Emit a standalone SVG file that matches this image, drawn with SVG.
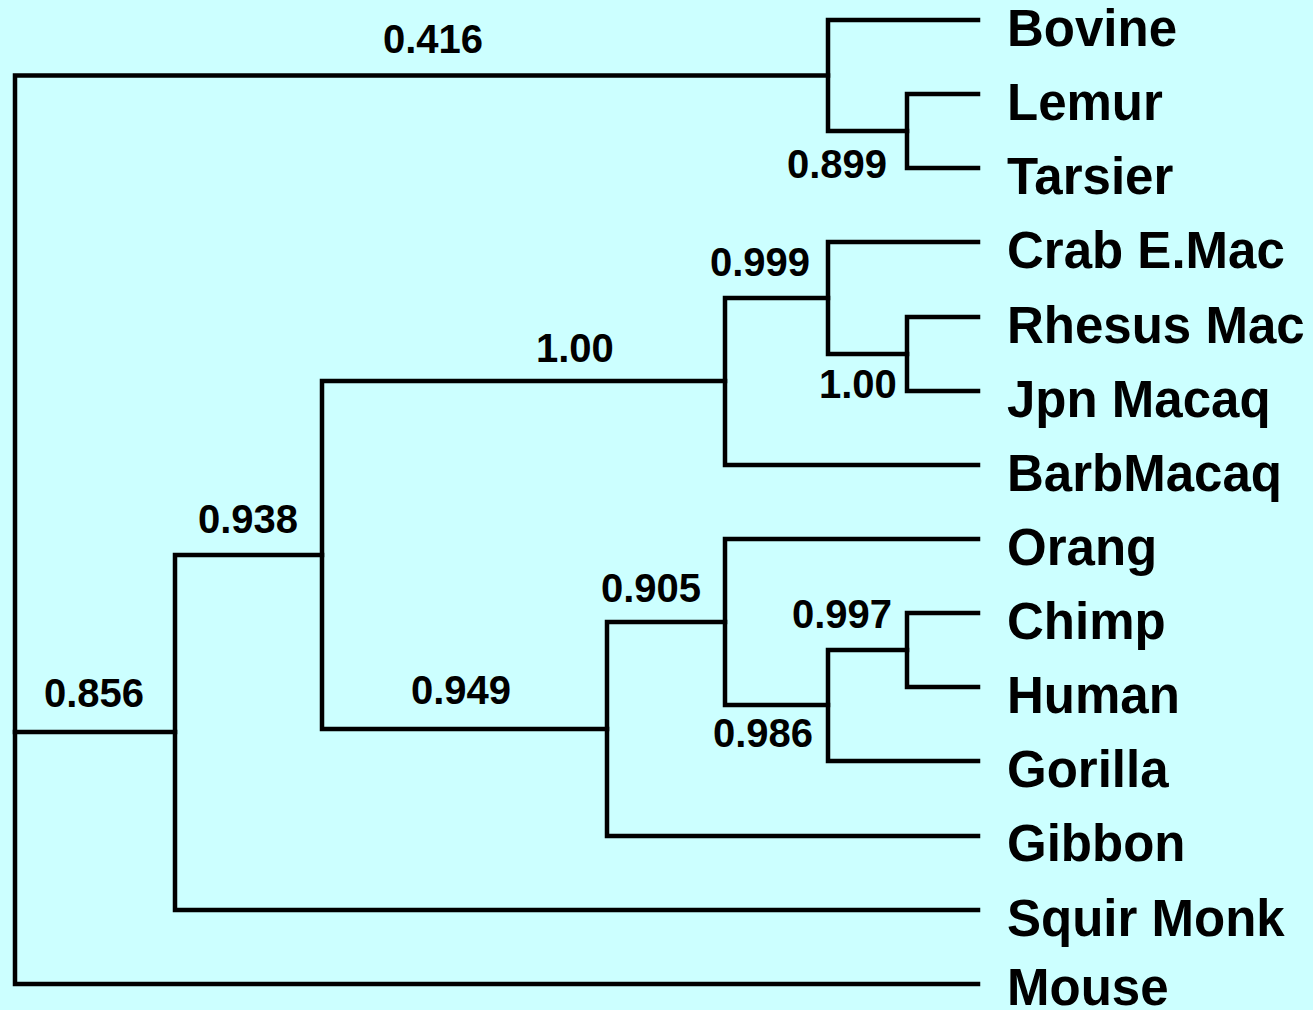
<svg xmlns="http://www.w3.org/2000/svg" width="1313" height="1010" viewBox="0 0 1313 1010">
<style>
.br{fill:none;stroke:#000;stroke-width:4.5;stroke-linejoin:miter;stroke-linecap:square}
.leaf{font-family:"Liberation Sans",Arial,sans-serif;font-weight:bold;font-size:51px;fill:#000}
.sup{font-family:"Liberation Sans",Arial,sans-serif;font-weight:bold;font-size:40px;fill:#000}
</style>
<rect width="1313" height="1010" fill="#CCFFFF"/>
<g id="connectors">
<path class="br" d="M828 75.5 H15 V984 H978"/>
<path class="br" d="M15 732 H175"/>
<path class="br" d="M978 20 H828 V131 H907"/>
<path class="br" d="M978 94 H907 V168 H978"/>
<path class="br" d="M322 555 H175 V910 H978"/>
<path class="br" d="M725 381 H322 V729 H607"/>
<path class="br" d="M828 298 H725 V465 H978"/>
<path class="br" d="M978 242 H828 V354 H907"/>
<path class="br" d="M978 317 H907 V391 H978"/>
<path class="br" d="M725 622 H607 V836 H978"/>
<path class="br" d="M978 539 H725 V705 H828"/>
<path class="br" d="M907 650 H828 V761 H978"/>
<path class="br" d="M978 613 H907 V687 H978"/>
</g>
<g id="leaf-bovine"><text class="leaf" x="1007" y="46">Bovine</text></g>
<g id="leaf-lemur"><text class="leaf" x="1007" y="120">Lemur</text></g>
<g id="leaf-tarsier"><text class="leaf" x="1007" y="194">Tarsier</text></g>
<g id="leaf-crab"><text class="leaf" x="1007" y="268">Crab E.Mac</text></g>
<g id="leaf-rhesus"><text class="leaf" x="1007" y="343">Rhesus Mac</text></g>
<g id="leaf-jpn"><text class="leaf" x="1007" y="417">Jpn Macaq</text></g>
<g id="leaf-barb"><text class="leaf" x="1007" y="491">BarbMacaq</text></g>
<g id="leaf-orang"><text class="leaf" x="1007" y="565">Orang</text></g>
<g id="leaf-chimp"><text class="leaf" x="1007" y="639">Chimp</text></g>
<g id="leaf-human"><text class="leaf" x="1007" y="713">Human</text></g>
<g id="leaf-gorilla"><text class="leaf" x="1007" y="787">Gorilla</text></g>
<g id="leaf-gibbon"><text class="leaf" x="1007" y="861">Gibbon</text></g>
<g id="leaf-squir"><text class="leaf" x="1007" y="936">Squir Monk</text></g>
<g id="leaf-mouse"><text class="leaf" x="1007" y="1005">Mouse</text></g>
<g id="sup-0416"><text class="sup" x="383" y="53">0.416</text></g>
<g id="sup-0899"><text class="sup" x="787" y="178">0.899</text></g>
<g id="sup-0999"><text class="sup" x="710" y="276">0.999</text></g>
<g id="sup-100a"><text class="sup" x="536" y="362">1.00</text></g>
<g id="sup-100b"><text class="sup" x="819" y="398">1.00</text></g>
<g id="sup-0938"><text class="sup" x="198" y="533">0.938</text></g>
<g id="sup-0905"><text class="sup" x="601" y="602">0.905</text></g>
<g id="sup-0997"><text class="sup" x="792" y="628">0.997</text></g>
<g id="sup-0949"><text class="sup" x="411" y="704">0.949</text></g>
<g id="sup-0856"><text class="sup" x="44" y="707">0.856</text></g>
<g id="sup-0986"><text class="sup" x="713" y="747">0.986</text></g>
</svg>
